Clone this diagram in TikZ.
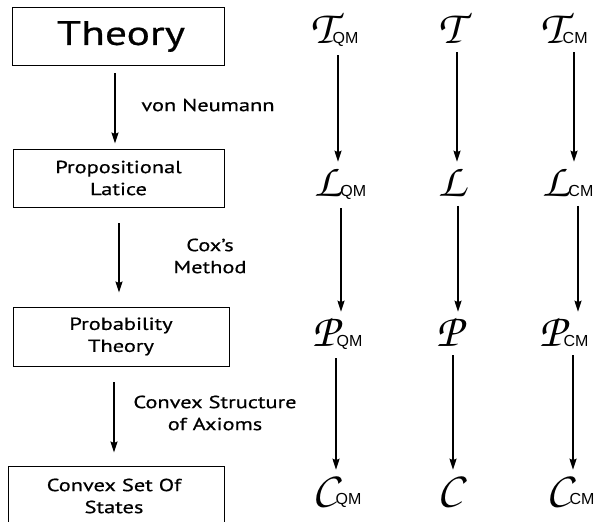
\documentclass[tikz,border=0pt]{standalone}
\usepackage{fontspec}
\setmainfont{PT Sans}[FakeStretch=1.28,FakeBold=0.6]
\newfontfamily\subf{Liberation Sans}
\usetikzlibrary{arrows.meta}
\newcommand{\chz}[1]{{\usefont{OT1}{pzc}{mb}{it}\fontsize{47}{47}\selectfont #1}}
\newcommand{\cl}[2]{\chz{#1}\kern-1pt{\subf\fontsize{16}{16}\selectfont #2}}
\begin{document}
\begin{tikzpicture}[x=1pt,y=-1pt,
  box/.style={draw,line width=0.9pt,align=center,inner sep=0pt,font=\fontsize{17.5}{22}\selectfont},
  lbl/.style={align=center,inner sep=0pt,font=\fontsize{17.5}{22}\selectfont},
  sym/.style={inner sep=0pt,anchor=base west},
  arr/.style={line width=1.7pt,-{Stealth[length=11pt,width=7pt,inset=1.5pt]}}]
\useasboundingbox (0,0) rectangle (598,522);
\clip (0,0) rectangle (598,522);
% left column
\node[box,minimum width=212pt,minimum height=58pt,font=\fontsize{34}{34}\selectfont] (theory) at (118,36.5) {\hspace{6pt}Theory};
\node[box,minimum width=211pt,minimum height=58pt] (prop) at (118.5,178) {Propositional\\Latice};
\node[box,minimum width=216pt,minimum height=59pt] (prob) at (121,336.5) {Probability\\Theory};
\node[box,minimum width=216pt,minimum height=72pt] (conv) at (116,502) {};
\node[lbl] (convt) at (114,496) {Convex Set Of\\States};
\draw[arr,shorten <=7.5pt,shorten >=5pt] ([xshift=-3pt]theory.south) -- ([xshift=-3.5pt]prop.north) ;
\node[lbl] (vn) at (208,105) {von Neumann};
\node[lbl] (cox) at (210,256) {Cox's\\Method};
\node[lbl] (cvx) at (215,413) {Convex Structure\\of Axioms};
\draw[arr,shorten <=16pt,shorten >=14pt] ([xshift=0.5pt]prop.south) -- ([xshift=-2pt]prob.north);
\draw[arr,shorten <=16pt,shorten >=13pt] ([xshift=-7pt]prob.south) -- ([xshift=-2pt]conv.north);
% right columns
\node[sym] (tqm) at (310,43) {\cl{T}{QM}};
\node[sym] (t) at (438,43) {\chz{T}};
\node[sym] (tcm) at (540,43) {\cl{T}{CM}};
\node[sym] (lqm) at (314,196) {\cl{L}{QM}};
\node[sym] (l) at (438,196) {\chz{L}};
\node[sym] (lcm) at (542,196) {\cl{L}{CM}};
\node[sym] (pqm) at (312,346) {\cl{P}{QM}};
\node[sym] (p) at (436,346) {\chz{P}};
\node[sym] (pcm) at (539,346) {\cl{P}{CM}};
\node[sym] (cqm) at (312,504) {\cl{C}{QM}};
\node[sym] (c) at (437,504) {\chz{C}};
\node[sym] (ccm) at (546,504) {\cl{C}{CM}};
\coordinate (x1a) at (338,0); \coordinate (x1b) at (341,0); \coordinate (x1c) at (336,0);
\coordinate (x2a) at (457,0); \coordinate (x2b) at (458,0); \coordinate (x2c) at (453,0);
\coordinate (x3a) at (574,0); \coordinate (x3b) at (578,0); \coordinate (x3c) at (573,0);
\foreach \a/\b/\x in {tqm/lqm/x1a,t/l/x2a,tcm/lcm/x3a,lqm/pqm/x1b,l/p/x2b,lcm/pcm/x3b,pqm/cqm/x1c,p/c/x2c,pcm/ccm/x3c}
  \draw[arr,shorten <=9pt,shorten >=5pt] (\a.south -| \x) -- (\b.north -| \x);
\end{tikzpicture}
\end{document}
